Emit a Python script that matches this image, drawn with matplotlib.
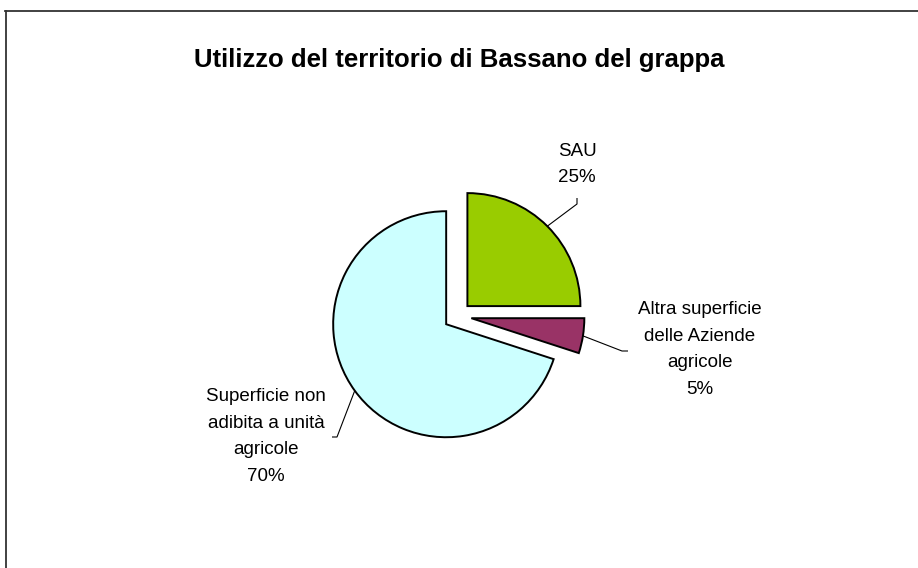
import numpy as np
import matplotlib
matplotlib.use("Agg")
import matplotlib.pyplot as plt

plt.rcParams['font.family'] = ['Liberation Sans', 'DejaVu Sans']

title = "Utilizzo del territorio di Bassano del grappa"
categories = ["SAU", "Altra superficie\ndelle Aziende\nagricole", "Superficie non\nadibita a unità\nagricole"]
values = [25, 5, 70]
colors = ["#99CC00", "#993366", "#CCFFFF"]

W, H = 918, 568
fig = plt.figure(figsize=(W / 100, H / 100), dpi=100)
ax = fig.add_axes([0, 0, 1, 1])

R = 113
CX, CY = 457.5, H - 316
explode_px = 14  # matplotlib explode is an absolute offset in data units

wedges, _ = ax.pie(values, colors=colors, startangle=90, counterclock=False,
                   radius=R, center=(CX, CY), explode=[explode_px] * 3,
                   wedgeprops=dict(edgecolor="black", linewidth=1.4))
ax.set_xlim(0, W)
ax.set_ylim(0, H)
ax.set_aspect('equal')
ax.axis('off')

total = sum(values)
# label settings: (text position in image px, elbow point, end point)
label_pos = [(577, 164.5), (700, 349.5), (266, 436.5)]
elbows = [((577, 204), (577, 198)), ((622, 351), (628, 351)), ((337, 437), (332, 437))]

for w, cat, v, lp, (e1, e2) in zip(wedges, categories, values, label_pos, elbows):
    mid = np.deg2rad((w.theta1 + w.theta2) / 2)
    cx, cy = w.center
    sx = cx + w.r * np.cos(mid)
    sy = cy + w.r * np.sin(mid)
    xs = [sx, e1[0], e2[0]]
    ys = [sy, H - e1[1], H - e2[1]]
    ax.plot(xs, ys, color="black", lw=0.8, solid_capstyle='butt')
    txt = f"{cat}\n{round(100 * v / total)}%"
    ax.text(lp[0], H - lp[1], txt, ha='center', va='center', ma='center',
            fontsize=13.5, linespacing=1.76, color="black")

ax.text(459, H - 60, title, ha='center', va='center', fontsize=18.5,
        fontweight='bold', color="black")

# chart area border (only top and left visible)
ax.plot([5, W + 5], [H - 11, H - 11], color="#333333", lw=1.3, clip_on=False)
ax.plot([6, 6], [H - 11, -5], color="#333333", lw=1.3, clip_on=False)

fig.savefig("out.png", dpi=100)
